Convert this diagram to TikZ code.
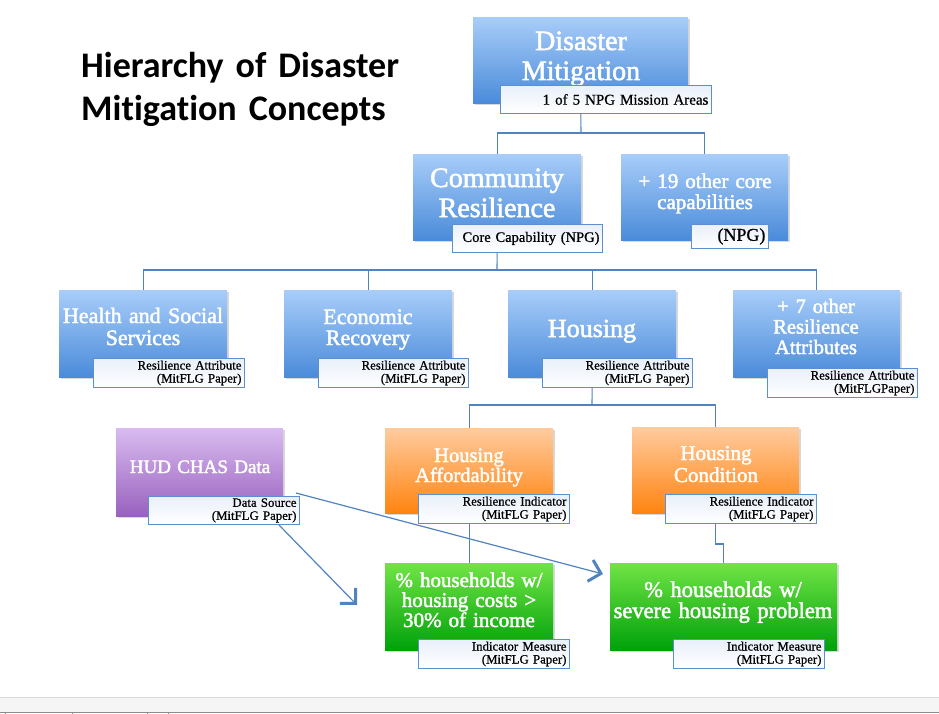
\documentclass[tikz,border=0pt]{standalone}
\usepackage{fontspec}
\setmainfont{Liberation Serif}
\newfontfamily\boxfont[FakeBold=2]{Liberation Serif}
\newfontfamily\lblfont[FakeBold=0.8]{Liberation Serif}
\newfontfamily\titlefont[RawFeature={-liga;-dlig;-calt},WordSpace=0.7]{Carlito}
\usetikzlibrary{shadows,backgrounds,arrows.meta,calc}
\definecolor{blT}{HTML}{A8CDF9}
\definecolor{blB}{HTML}{4A8BDA}
\definecolor{puT}{HTML}{D9BBF0}
\definecolor{puB}{HTML}{9861BE}
\definecolor{orT}{HTML}{FFCB9E}
\definecolor{orB}{HTML}{FF8410}
\definecolor{grT}{HTML}{70E445}
\definecolor{grB}{HTML}{00A10A}
\definecolor{lblT}{HTML}{E9F0FA}
\definecolor{lblD}{HTML}{5B8FD0}
\definecolor{cnC}{HTML}{5183C0}
\begin{document}
\begin{tikzpicture}[x=1pt,y=-1pt,
  box/.style={rectangle, inner sep=0pt, anchor=north west,
    drop shadow={shadow xshift=1.5pt,shadow yshift=-2pt,opacity=0.3}},
  bluebox/.style={box, top color=blT, bottom color=blB},
  purbox/.style={box, top color=puT, bottom color=puB},
  orbox/.style={box, top color=orT, bottom color=orB},
  grbox/.style={box, top color=grT, bottom color=grB},
  lbl/.style={rectangle, anchor=north west, draw=lblD, line width=0.9pt,
    top color=lblT, bottom color=white, inner xsep=3pt, inner ysep=0pt,
    align=right, font=\lblfont\fontsize{12.8}{13}\selectfont},
  conn/.style={draw=cnC, line width=1.1pt},
  arr/.style={draw=cnC, line width=1.2pt,
    -{Straight Barb[length=11pt,width=22pt,line width=3pt]}},
  btxt/.style={text=white, inner sep=0pt, align=center, anchor=base, text width=240pt}
]
\useasboundingbox (0,0) rectangle (939,714);
\begin{pgfonlayer}{background}
\fill[white] (0,0) rectangle (939,714);
\end{pgfonlayer}

% bottom strip
\fill[black!4] (0,697) rectangle (939,712);
\draw[black!15, line width=0.8pt] (0,697) -- (939,697);
\draw[black!45, line width=0.8pt] (0,712) -- (939,712);
\foreach \tx in {5,72,147,168} \draw[black!45, line width=0.6pt] (\tx,712) -- (\tx,714);

% title
\node[font=\titlefont\bfseries\fontsize{36}{43}\selectfont, anchor=base west,
  align=left, text width=340pt, inner sep=0pt] (title) at (81,78)
  {Hierarchy of Disaster\\Mitigation Concepts};

% level 1
\node[bluebox, minimum width=215pt, minimum height=86pt] (dm) at (473,17) {};
\node[btxt, font=\boxfont\fontsize{28}{30}\selectfont] (dmt) at (581,50) {Disaster\\Mitigation};
\node[lbl, minimum width=211pt, minimum height=28pt, text width=205pt,
  font=\lblfont\fontsize{15}{16}\selectfont] (dml) at (500,85) {1 of 5 NPG Mission Areas};

% level 2
\node[bluebox, minimum width=168pt, minimum height=86pt] (cr) at (413,154) {};
\node[btxt, font=\boxfont\fontsize{28}{30}\selectfont] (crt) at (497,187) {Community\\Resilience};
\node[lbl, minimum width=150pt, minimum height=28pt, text width=144pt,
  font=\lblfont\fontsize{14.5}{15}\selectfont] (crl) at (452,224) {Core Capability (NPG)};

\node[bluebox, minimum width=167pt, minimum height=86pt] (oc) at (621,154) {};
\node[btxt, font=\boxfont\fontsize{21}{21}\selectfont] (oct) at (705,188) {+ 19 other core\\capabilities};
\node[lbl, minimum width=77pt, minimum height=24pt, text width=71pt,
  font=\lblfont\fontsize{18}{18}\selectfont] (ocl) at (691,224) {(NPG)};

% level 3
\node[bluebox, minimum width=168pt, minimum height=87pt] (hs) at (59,290) {};
\node[btxt, font=\boxfont\fontsize{22}{22}\selectfont] (hst) at (143,323) {Health and Social\\Services};
\node[lbl, minimum width=151pt, minimum height=29pt, text width=145pt] (hsl) at (93,358)
  {Resilience Attribute\\(MitFLG Paper)};

\node[bluebox, minimum width=168pt, minimum height=87pt] (er) at (284,290) {};
\node[btxt, font=\boxfont\fontsize{22}{21}\selectfont] (ert) at (368,324) {Economic\\Recovery};
\node[lbl, minimum width=150pt, minimum height=29pt, text width=144pt] (erl) at (318,358)
  {Resilience Attribute\\(MitFLG Paper)};

\node[bluebox, minimum width=168pt, minimum height=87pt] (ho) at (508,290) {};
\node[btxt, font=\boxfont\fontsize{26}{26}\selectfont] (hot) at (592,337) {Housing};
\node[lbl, minimum width=150pt, minimum height=29pt, text width=144pt] (hol) at (542,358)
  {Resilience Attribute\\(MitFLG Paper)};

\node[bluebox, minimum width=167pt, minimum height=87pt] (ot) at (733,290) {};
\node[btxt, font=\boxfont\fontsize{20.5}{20.5}\selectfont] (ott) at (816,313) {+ 7 other\\Resilience\\Attributes};
\node[lbl, minimum width=150pt, minimum height=29pt, text width=144pt] (otl) at (767,368)
  {Resilience Attribute\\(MitFLGPaper)};

% level 4
\node[purbox, minimum width=167pt, minimum height=88pt] (hud) at (116,428) {};
\node[btxt, font=\boxfont\fontsize{19}{19}\selectfont] (hudt) at (200,473) {HUD CHAS Data};
\node[lbl, minimum width=151pt, minimum height=28pt, text width=145pt] (hudl) at (148,496)
  {Data Source\\(MitFLG Paper)};

\node[orbox, minimum width=168pt, minimum height=85pt] (ha) at (385,428) {};
\node[btxt, font=\boxfont\fontsize{20.5}{20}\selectfont] (hat) at (469,462) {Housing\\Affordability};
\node[lbl, minimum width=151pt, minimum height=29pt, text width=145pt] (hal) at (418,494)
  {Resilience Indicator\\(MitFLG Paper)};

\node[orbox, minimum width=167pt, minimum height=86pt] (hc) at (632,427) {};
\node[btxt, font=\boxfont\fontsize{21}{22}\selectfont] (hct) at (716,460) {Housing\\Condition};
\node[lbl, minimum width=151pt, minimum height=29pt, text width=145pt] (hcl) at (665,494)
  {Resilience Indicator\\(MitFLG Paper)};

% level 5
\node[grbox, minimum width=168pt, minimum height=87pt] (g1) at (385,563) {};
\node[btxt, font=\boxfont\fontsize{21}{20}\selectfont] (g1t) at (469,587) {\% households w/\\housing costs >\\30\% of income};
\node[lbl, minimum width=151pt, minimum height=29pt, text width=145pt] (g1l) at (418,639)
  {Indicator Measure\\(MitFLG Paper)};

\node[grbox, minimum width=227pt, minimum height=87pt] (g2) at (610,563) {};
\node[btxt, font=\boxfont\fontsize{22.5}{21}\selectfont] (g2t) at (723,597) {\% households w/\\severe housing problem};
\node[lbl, minimum width=151pt, minimum height=29pt, text width=145pt] (g2l) at (673,639)
  {Indicator Measure\\(MitFLG Paper)};

% connectors
\begin{pgfonlayer}{background}
\coordinate (j1) at (581,133);
\coordinate (j2) at (497,270);
\coordinate (j3) at (592,405);
\coordinate (j4) at (720,544);
\draw[conn] (dm.south) -- (j1);
\draw[conn] (cr.north) |- (j1) -| (oc.north);
\draw[conn] (cr.south) -- (j2);
\draw[conn] (hs.north) |- (j2) -| (ot.north);
\draw[conn] (er.north) -- (er.north |- j2);
\draw[conn] (ho.north) -- (ho.north |- j2);
\draw[conn] (ho.south) -- (j3);
\draw[conn] (ha.north) |- (j3) -| (hc.north);
\draw[conn] (ha.south) -- (g1.north);
\draw[conn] (hc.south) -- (hc.south |- j4) -| (g2.north);
\end{pgfonlayer}

% arrows
\coordinate (a1) at (357,605);
\coordinate (a2) at (603,574);
\draw[arr] ($(hudl.south east)+(-21,0)$) -- (a1);
\draw[arr] ($(hudl.north east)+(-4,-3)$) -- (a2);
\end{tikzpicture}
\end{document}
